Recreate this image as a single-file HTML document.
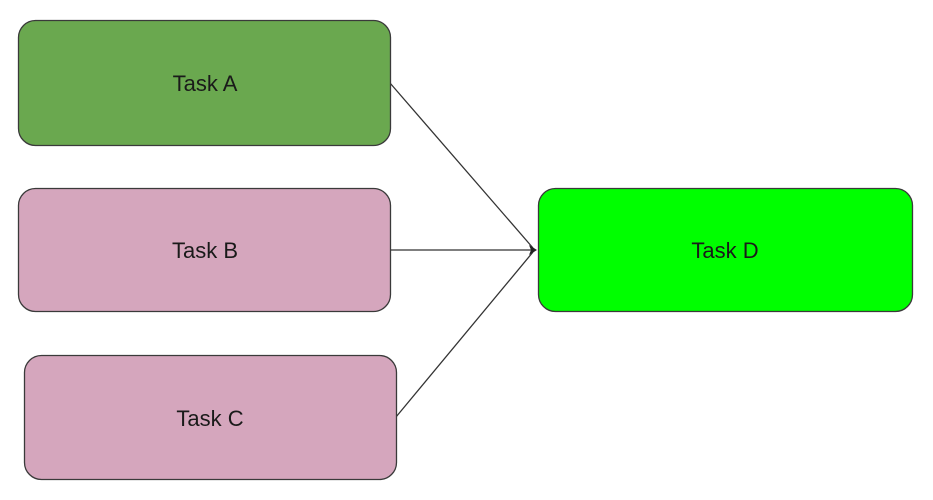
<!DOCTYPE html>
<html><head><meta charset="utf-8"><style>
html,body{margin:0;padding:0;background:#fff;}
svg{display:block;}
text{font-family:"Liberation Sans",sans-serif;font-size:22px;fill:#1a1a1a;}
</style></head><body>
<svg width="933" height="500" viewBox="0 0 933 500" xmlns="http://www.w3.org/2000/svg">
<g stroke="#333" stroke-width="1.3" fill="none">
<line x1="390" y1="83" x2="533" y2="248"/>
<line x1="390" y1="250" x2="533" y2="250"/>
<line x1="396" y1="417" x2="533" y2="252"/>
</g>
<polygon points="537,250 529,245 531,250 529,255" fill="#222"/>
<rect x="18.5" y="20.5" width="372" height="125" rx="17" fill="#6aa84f" stroke="#3a3a3a" stroke-width="1.3"/>
<rect x="18.5" y="188.5" width="372" height="123" rx="17" fill="#d5a6bd" stroke="#3a3a3a" stroke-width="1.3"/>
<rect x="24.5" y="355.5" width="372" height="124" rx="17" fill="#d5a6bd" stroke="#3a3a3a" stroke-width="1.3"/>
<rect x="538.5" y="188.5" width="374" height="123" rx="17" fill="#00ff00" stroke="#3a3a3a" stroke-width="1.3"/>
<text x="205" y="91" text-anchor="middle">Task A</text>
<text x="205" y="258" text-anchor="middle">Task B</text>
<text x="210" y="426" text-anchor="middle">Task C</text>
<text x="725" y="258" text-anchor="middle">Task D</text>
</svg>
</body></html>
